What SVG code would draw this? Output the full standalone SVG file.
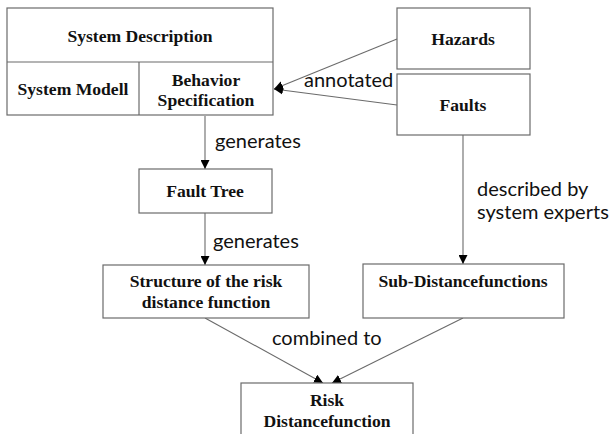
<svg xmlns="http://www.w3.org/2000/svg" width="616" height="434" viewBox="0 0 616 434">
<style>
.box{fill:#fff;stroke:#6b6b6b;stroke-width:1.2}
.t{font-family:"Liberation Serif","Times New Roman",serif;font-weight:bold;font-size:17.6px;fill:#111;text-anchor:middle}
.l{font-family:Lato,"Liberation Sans",sans-serif;font-size:20px;fill:#111}
.c{stroke:#6b6b6b;stroke-width:1.1;fill:none;marker-end:url(#ah)}
</style>
<defs>
<marker id="ah" viewBox="0 0 10 10" refX="10" refY="5" markerWidth="9" markerHeight="9" markerUnits="userSpaceOnUse" orient="auto">
<path d="M0,0 L10,5 L0,10 z" fill="#000"/>
</marker>
</defs>
<rect width="616" height="434" fill="#fff"/>
<g id="connectors">
<line class="c" x1="397" y1="39" x2="274" y2="89"/>
<line class="c" x1="397" y1="105" x2="274" y2="89"/>
<line class="c" x1="205" y1="116" x2="205" y2="169"/>
<line class="c" x1="205" y1="213" x2="205" y2="265"/>
<line class="c" x1="463" y1="135" x2="463" y2="264"/>
<line class="c" x1="205" y1="318" x2="323" y2="383"/>
<line class="c" x1="463" y1="318" x2="332" y2="383"/>
<text class="l" x="304" y="87">annotated</text>
<text class="l" x="215" y="148">generates</text>
<text class="l" x="213" y="248">generates</text>
<text class="l" x="477" y="196">described by</text>
<text class="l" x="477" y="219">system experts</text>
<text class="l" x="272" y="345">combined to</text>
</g>
<g id="system-description">
<rect class="box" x="7" y="8" width="266" height="107"/>
<line x1="7" y1="62" x2="273" y2="62" stroke="#6b6b6b" stroke-width="1.2"/>
<line x1="139" y1="62" x2="139" y2="115" stroke="#6b6b6b" stroke-width="1.2"/>
<text class="t" x="140" y="42">System Description</text>
<text class="t" x="73" y="95">System Modell</text>
<text class="t" x="206" y="86">Behavior</text>
<text class="t" x="206" y="106">Specification</text>
</g>
<g id="hazards">
<rect class="box" x="397" y="8" width="133" height="61"/>
<text class="t" x="463" y="45">Hazards</text>
</g>
<g id="faults">
<rect class="box" x="397" y="74" width="133" height="61"/>
<text class="t" x="463" y="111">Faults</text>
</g>
<g id="fault-tree">
<rect class="box" x="139" y="169" width="133" height="44"/>
<text class="t" x="205" y="197">Fault Tree</text>
</g>
<g id="structure">
<rect class="box" x="103" y="265" width="206" height="53"/>
<text class="t" x="206" y="287">Structure of the risk</text>
<text class="t" x="206" y="308">distance function</text>
</g>
<g id="sub-distancefunctions">
<rect class="box" x="363" y="264" width="201" height="54"/>
<text class="t" x="463" y="287">Sub-Distancefunctions</text>
</g>
<g id="risk-distancefunction">
<rect class="box" x="241" y="383" width="172" height="60"/>
<text class="t" x="327" y="406">Risk</text>
<text class="t" x="327" y="427">Distancefunction</text>
</g>
</svg>
